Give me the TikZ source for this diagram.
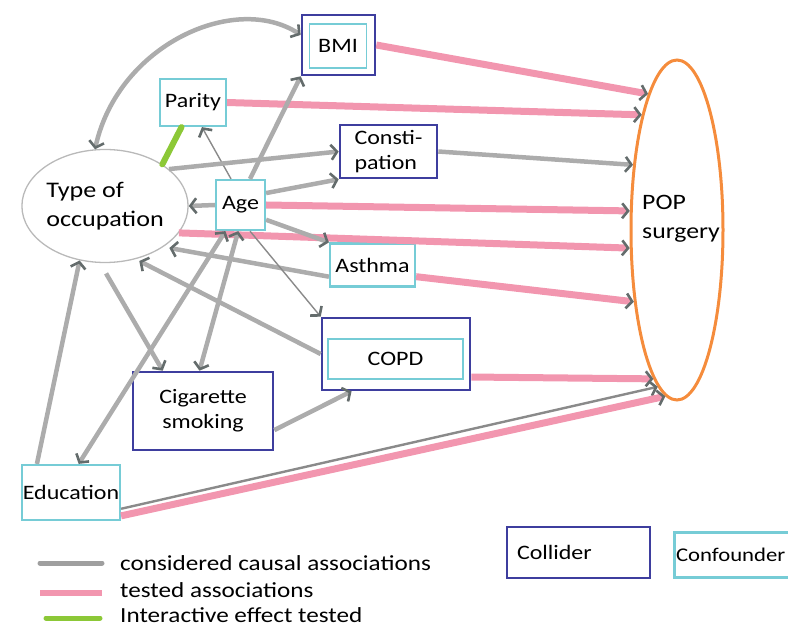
\documentclass[tikz,border=0pt]{standalone}
\usepackage{fontspec}
\setmainfont{Carlito}[FakeStretch=1.17]
\usetikzlibrary{arrows.meta,shapes.geometric}
\definecolor{pinkln}{RGB}{242,150,175}
\definecolor{greyln}{RGB}{172,172,172}
\definecolor{tipgrey}{RGB}{100,108,108}
\definecolor{colblue}{RGB}{62,62,158}
\definecolor{confcyan}{RGB}{118,204,214}
\definecolor{orangec}{RGB}{245,140,60}
\definecolor{greenc}{RGB}{140,200,55}
\definecolor{ellgrey}{RGB}{185,185,185}
\begin{document}
\begin{tikzpicture}[x=1pt,y=-1pt,
  >={Straight Barb[length=6pt,width=15pt,line width=2.6pt,color=tipgrey]},
  every node/.style={font=\fontsize{20.5}{25}\selectfont, inner sep=0pt},
  collider/.style={draw=colblue, line width=2.6pt, fill=white, rectangle},
  confounder/.style={draw=confcyan, line width=2.2pt, fill=white, rectangle},
  causal/.style={draw=greyln, line width=4.5pt},
  causalthin/.style={draw=greyln!80!black, line width=1.4pt},
  tested/.style={draw=pinkln, line width=7pt},
  interact/.style={draw=greenc, line width=6pt, line cap=round},
  legcausal/.style={draw=gray!75, line width=5pt, line cap=round},
  legtested/.style={draw=pinkln, line width=6pt},
  leginteract/.style={draw=greenc, line width=5pt, line cap=round},
  legtext/.style={anchor=base west, font=\fontsize{21.5}{25}\selectfont},
]
\useasboundingbox (0,0) rectangle (788,636);

% ---- nodes ----
\node[draw=orangec, line width=3pt, ellipse, minimum width=92pt, minimum height=340pt] (pop) at (677,230) {};
\node[font=\fontsize{22}{29}\selectfont, align=left, anchor=west] (popt) at (642,219) {POP\\surgery};

\node[draw=ellgrey, line width=1.3pt, ellipse, minimum width=156pt, minimum height=113pt, align=left,
      font=\fontsize{22.3}{29}\selectfont] (occ) at (105,206) {Type of\\occupation};

\node[collider, minimum width=73pt, minimum height=60pt] (bmi) at (338.5,45) {};
\node[confounder, line width=1.5pt, minimum width=57pt, minimum height=44pt] (bmiin) at (338,46) {BMI};

\node[confounder, minimum width=66pt, minimum height=47pt] (parity) at (193,102.5) {Parity};
\node[collider, minimum width=97pt, minimum height=53pt, align=left] (const) at (388.5,151.5) {Consti-\\pation};
\node[confounder, minimum width=49pt, minimum height=50pt] (age) at (240.5,205) {Age};
\node[confounder, minimum width=85pt, minimum height=43pt] (asthma) at (372.5,265) {Asthma};

\node[collider, minimum width=148pt, minimum height=72pt] (copd) at (396,354) {};
\node[confounder, minimum width=135pt, minimum height=40pt] (copdin) at (395.5,359) {COPD};

\node[collider, minimum width=140pt, minimum height=78pt, align=center] (cig) at (203,411) {Cigarette\\smoking};
\node[confounder, minimum width=98pt, minimum height=55pt] (edu) at (71,492.5) {Education};

% ---- tested associations (pink) ----
\draw[tested,->] (bmi.east) -- (pop.102);
\draw[tested,->] (parity.east) -- (pop.107);
\draw[tested,->] (age.east) -- (pop.158.5);
\draw[tested,->] (occ.-20) -- (pop.201.5);
\draw[tested,->] (asthma.-15) -- (pop.239);
\draw[tested,->] (copd.-17) -- (pop.261);
\draw[causalthin,line width=2.4pt,->] (edu.-18) -- (pop.263);
\draw[tested,->] (edu.-25) -- (pop.266);

% ---- considered causal associations (grey) ----
\draw[causal,->] (const.east) -- (pop.124.6);
\draw[causal,<->] (occ.100) .. controls (118,45) and (235,-8) .. (bmi.165);
\draw[causal,->] (age.70) -- (bmi.south west);
\draw[causalthin,->] (age.110) -- (parity.-70);
\draw[causal,->] (occ.30) -- (const.west);
\draw[causal,->] (age.25) -- (const.south west);
\draw[causal,->] (age.west) -- (occ.east);
\draw[causal,->] (age.-30) -- (asthma.north west);
\draw[causal,->,shorten >=6pt] (asthma.195) -- (occ.-35);
\draw[causal,->,shorten >=4pt] (copd.west) -- (occ.-60);
\draw[causalthin,->] (age.-70) -- (copd.north west);
\draw[causal,->] (edu.140) -- (occ.-115);
\draw[causal,<->] (age.-120) -- (edu.75);
\draw[causal,<->] (age.-95) -- (cig.95);
\draw[causal,->,shorten <=12pt] (occ.-95) -- (cig.135);
\draw[causal,->] (cig.-15) -- (copd.-140);

% ---- interactive effect (green) ----
\draw[interact] (parity.-115) -- (occ.36);

% ---- legend ----
\coordinate (l1a) at (40,563); \coordinate (l1b) at (102,563);
\coordinate (l2a) at (40,593); \coordinate (l2b) at (102,593);
\coordinate (l3a) at (46,618); \coordinate (l3b) at (100,618);
\draw[legcausal] (l1a) -- (l1b);
\draw[legtested] (l2a) -- (l2b);
\draw[leginteract] (l3a) -- (l3b);
\node[legtext] (lg1) at (120,570) {considered causal associations};
\node[legtext] (lg2) at (120,597) {tested associations};
\node[legtext] (lg3) at (120,622) {Interactive effect tested};

\node[collider, minimum width=143pt, minimum height=51pt, text width=123pt, align=left] (legcol) at (578.5,552.5) {Collider};
\node[confounder, line width=3pt, minimum width=126pt, minimum height=45pt, text width=122pt, align=left,
      font=\fontsize{19.4}{24}\selectfont] (legconf) at (737,554.5) {Confounder};
\end{tikzpicture}
\end{document}
